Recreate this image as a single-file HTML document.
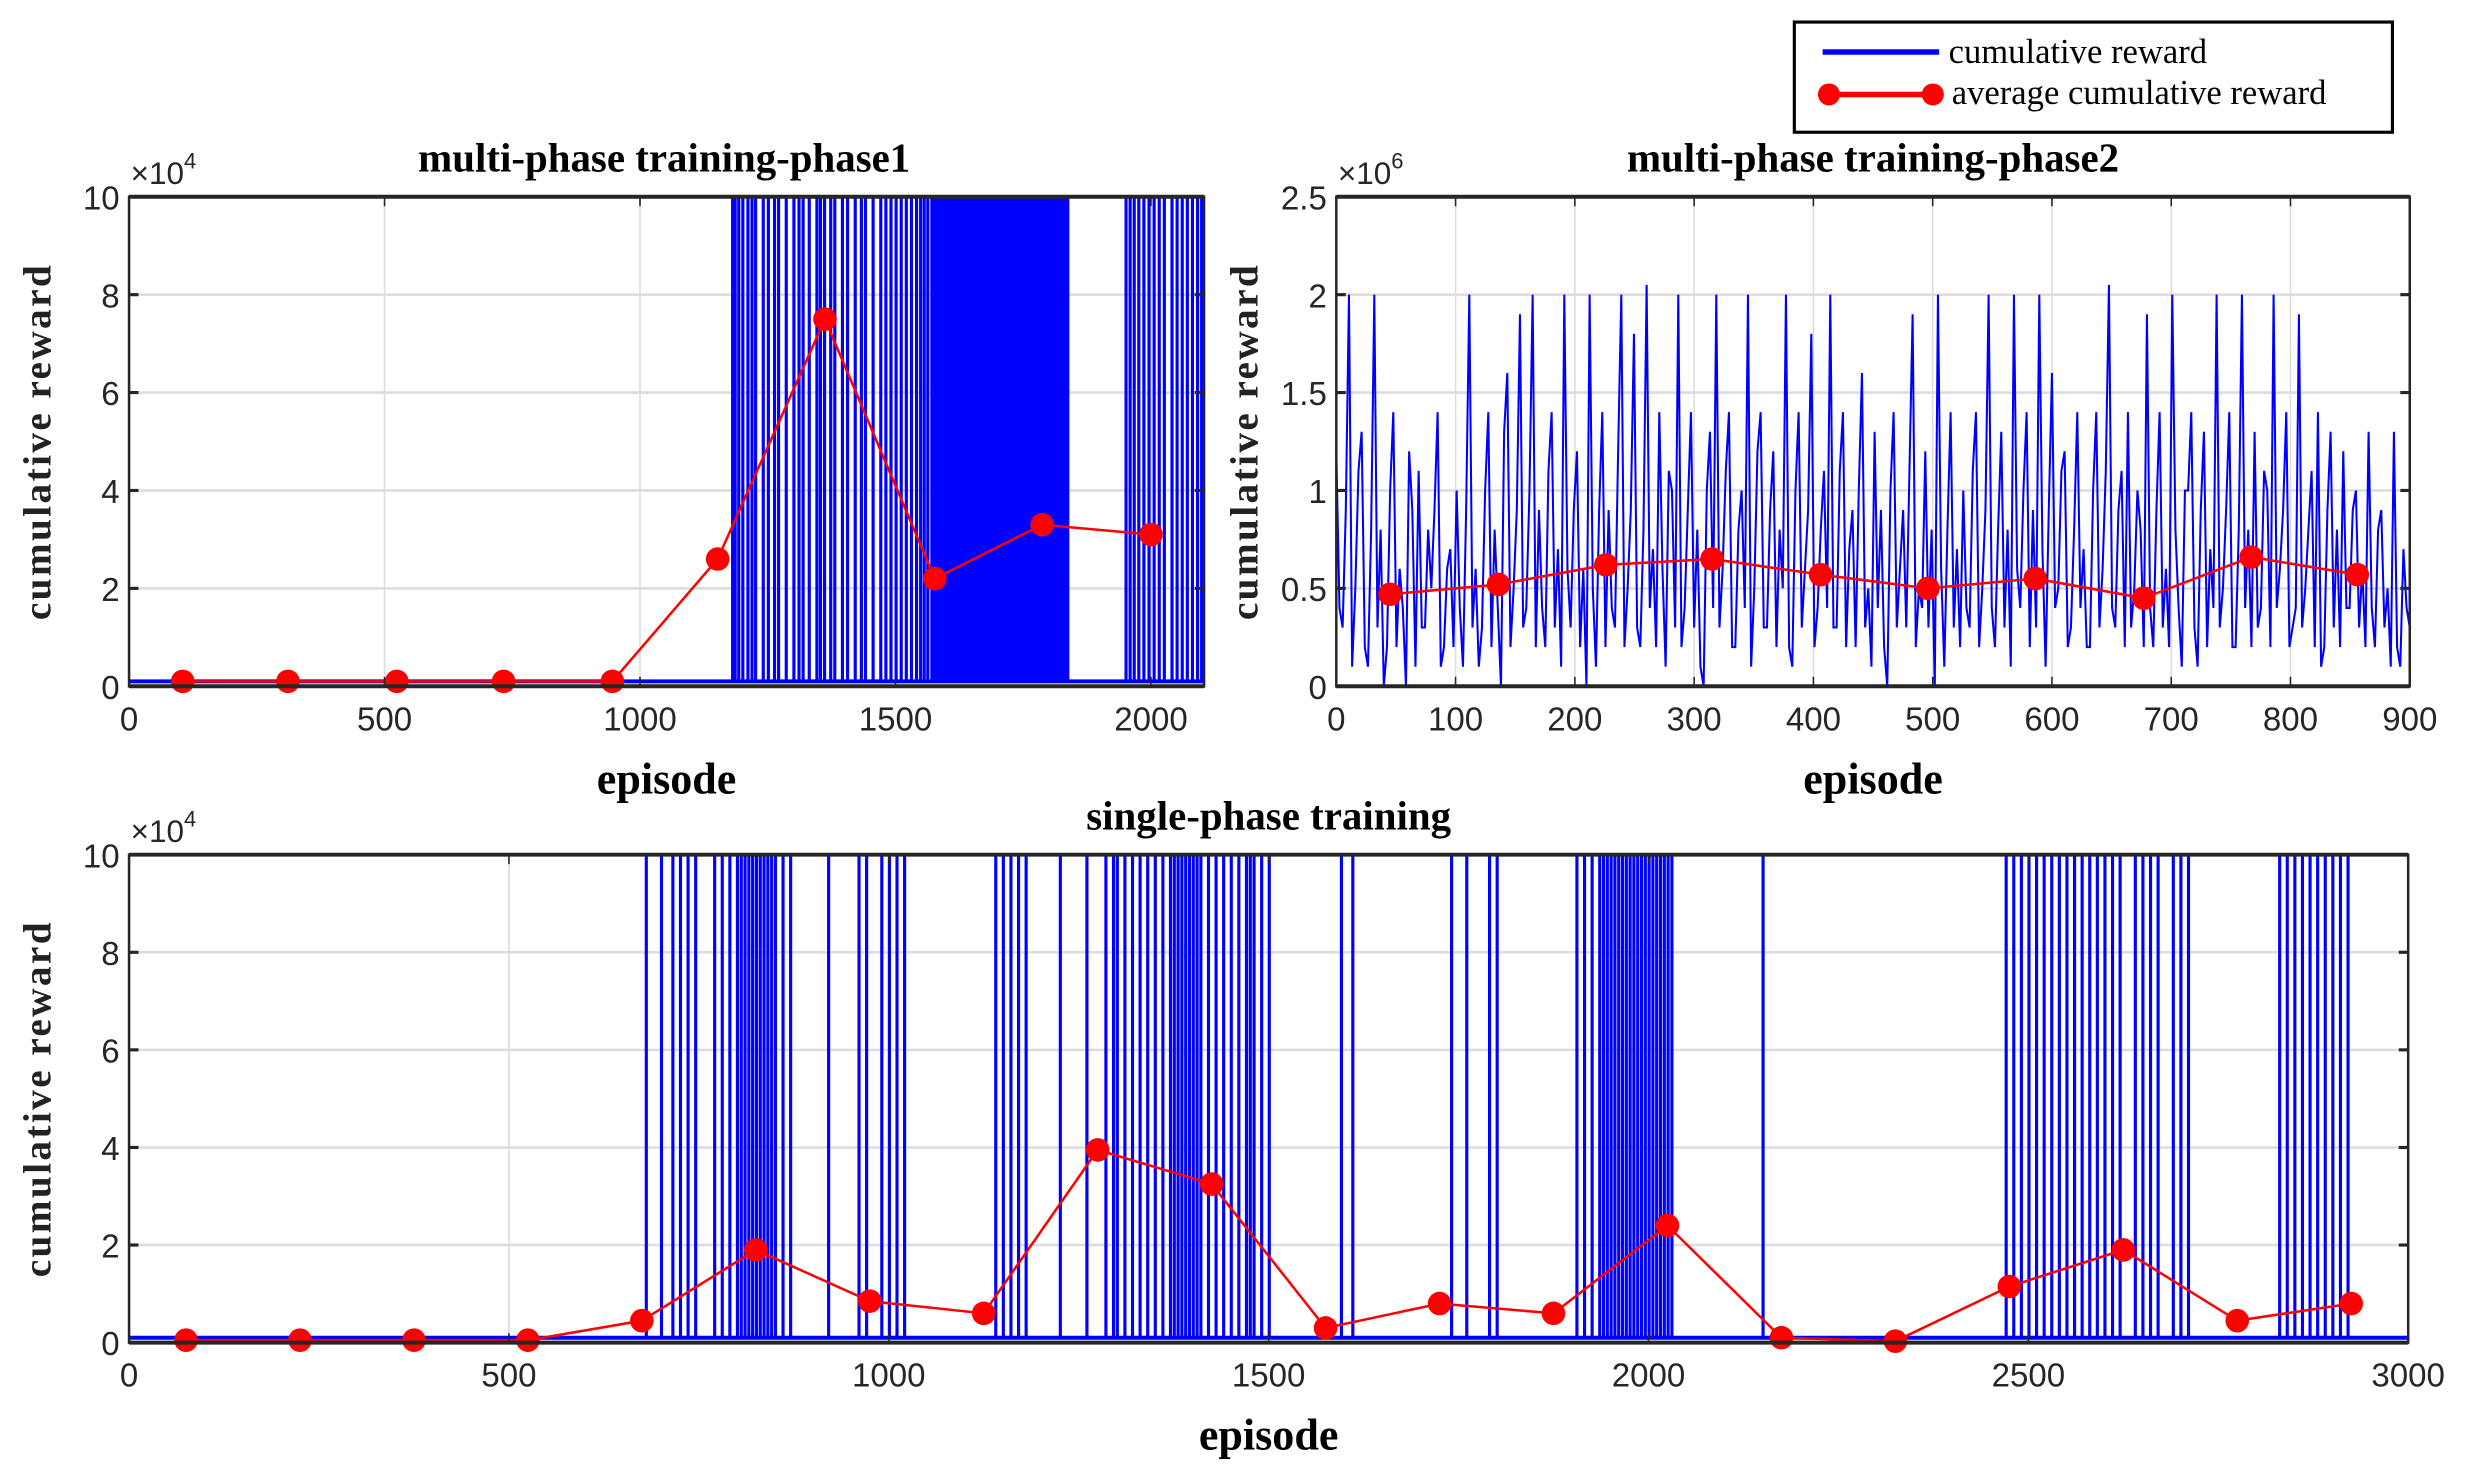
<!DOCTYPE html>
<html><head><meta charset="utf-8"><style>
html,body{margin:0;padding:0;background:#fff;}
svg{display:block;}
</style></head><body>
<svg id="fig" width="2468" height="1478" viewBox="0 0 1568 939" xmlns="http://www.w3.org/2000/svg"></svg>
<script>
// ---- data ----
const p1Spikes = [1180,1185,1192,1200,1210,1218,1225,1240,1250,1262,1270,1285,1300,1310,1318,1330,1345,1352,1360,1372,1380,1395,1405,1420,1432,1440,1455,1470,1480,1490,1500,1510,1520,1530,1540,1548,1555,1562,1570,1575,1580,1584,1588,1592,1596,1600,1604,1608,1612,1616,1620,1624,1628,1632,1636,1640,1644,1648,1652,1656,1660,1664,1668,1672,1676,1680,1684,1688,1692,1696,1700,1704,1708,1712,1716,1720,1724,1728,1732,1736,1740,1744,1748,1752,1756,1760,1764,1768,1772,1776,1780,1784,1788,1792,1796,1800,1806,1812,1818,1824,1830,1836,1950,1958,1966,1975,1985,1995,2005,2015,2025,2040,2050,2060,2070,2080,2090,2098];
const p1AvgX = [105,311,524,733,946,1152,1362,1577,1787,2000];
const p1AvgY = [0.1,0.1,0.1,0.1,0.1,2.6,7.5,2.2,3.3,3.1];
const p2Values = [1.2,0.3,2.0,0.5,1.3,0.1,2.0,0.8,0.2,1.4,0.6,0,0.9,1.1,0.3,0.5,1.4,0.2,0.7,1.0,
0.1,2.0,0.6,0.3,1.4,0.8,0,1.6,0.5,1.9,0.4,2.0,0.9,0.2,1.4,0.7,2.0,0.3,1.2,0.6,
2.0,0.1,1.4,0.9,0.3,2.0,0.5,1.8,0.2,2.05,0.7,1.4,0.1,1.0,2.0,0.4,1.4,0.8,0,1.3,
2.0,0.6,1.4,0.2,1.0,2.0,0.5,1.4,0.3,1.2,0.8,2.0,0.1,1.4,0.6,1.8,0.4,1.1,2.0,0.3,
1.4,0.7,0.2,1.6,0.5,1.3,0.9,0,1.4,0.6,0.3,1.9,0.5,1.2,0.8,2.0,0.1,1.4,0.7,1.0,
0.3,1.4,0.5,2.0,0.2,1.3,0.8,2.0,0.4,1.4,0.9,2.0,0.1,1.6,0.5,1.2,0.3,1.4,0.7,0.2,
1.4,0.6,2.05,0.3,1.1,1.4,0.5,0.8,1.9,0.2,1.4,0.6,2.0,0.4,1.0,1.4,0.1,1.3,0.7,2.0,
0.5,1.4,0.2,2.0,0.8,1.3,0.4,1.0,2.0,0.6,1.4,0.3,1.9,0.5,1.1,1.4,0.2,1.3,0.8,1.2,
0.4,1.0,0.6,1.3,0.2,0.9,0.5,1.3,0.1,0.4];
const p2ValuesB = [0.4,0.9,0.1,1.1,0.2,0.8,0.3,0,1.0,0.2,0.4,1.2,0.1,0.3,0.8,0.9,0.1,0.6,0.2,0.4,
0.9,0.3,0.1,1.0,0.2,0.4,1.3,0.2,0.9,0.3,1.0,0.2,0.4,1.1,0.3,0.1,0.6,0.9,0.2,0,
0.5,0.9,0.2,0.4,1.2,0.2,0.9,0.3,0.8,0.4,0.2,0.6,1.1,0.3,0.2,0.9,0.3,0.1,1.0,0.4,
0.3,1.1,0.2,0.8,0.4,0.1,1.2,0.3,0.9,0.2,0.5,0.2,1.0,0.3,0.9,0.2,0.8,0.4,0.3,1.1,
0.2,0.9,1.0,0.3,0.1,0.4,0.2,1.0,0.3,0.9,1.1,0.2,0.4,0.3,0,0.6,0.8,0.3,0.2,0.4,
1.1,0.2,0.9,0.4,0.8,0.3,0.1,0.6,1.0,0.2,0.3,0.7,0.9,0.4,1.1,0.2,0.8,0.4,0.2,1.0,
0.3,1.1,0.4,0.9,0.2,0.3,1.0,0.2,0.4,0.9,0.3,0.2,0.8,0.1,1.0,0.3,0.9,0.2,0.4,0.3,
0.9,0.2,0.8,0.4,0.2,0.3,1.1,0.2,0.4,0.9,0.2,0.4,0.3,0.8,0.2,0.1,0.9,0.3,0.2,0.4,
0.9,0.3,0.2,0.4,0.8,0.3,0.1,0.2,0.7,0.3];
const p2AvgX = [45,136,226,315,406,496,586,677,767,856];
const p2AvgY = [0.47,0.52,0.62,0.65,0.57,0.50,0.55,0.45,0.66,0.57];
const p3Spikes = [680,700,715,725,735,745,770,780,790,800,805,810,815,820,825,830,835,840,845,850,860,870,920,960,970,990,1000,1010,1020,1140,1150,1160,1170,1180,1225,1260,1285,1295,1300,1310,1320,1330,1340,1350,1360,1370,1375,1380,1385,1390,1395,1400,1405,1410,1420,1430,1440,1450,1460,1470,1475,1480,1490,1500,1595,1610,1740,1760,1790,1800,1905,1915,1925,1935,1940,1945,1950,1955,1960,1965,1970,1975,1980,1985,1990,1995,2000,2005,2010,2015,2020,2025,2030,2150,2470,2480,2490,2500,2510,2520,2530,2540,2550,2560,2570,2580,2590,2600,2610,2620,2640,2650,2660,2670,2690,2700,2710,2830,2840,2850,2860,2870,2880,2890,2900,2910,2920];
const p3AvgX = [75,225,375,525,675,825,975,1125,1275,1425,1575,1725,1875,2025,2175,2325,2475,2625,2775,2925];
const p3AvgY = [0.05,0.05,0.05,0.05,0.45,1.9,0.85,0.6,3.95,3.25,0.3,0.8,0.6,2.4,0.1,0.03,1.15,1.9,0.45,0.8];
const p1XTicks = [0,500,1000,1500,2000];
const p2XTicks = [0,100,200,300,400,500,600,700,800,900];
const p3XTicks = [0,500,1000,1500,2000,2500,3000];
const yTicks10 = [0,2,4,6,8,10];
const p2YTicks = [0,0.5,1,1.5,2,2.5];

const NS='http://www.w3.org/2000/svg';
const svg=document.getElementById('fig');
function mk(tag,attrs,parent){const e=document.createElementNS(NS,tag);for(const k in attrs)e.setAttribute(k,attrs[k]);(parent||svg).appendChild(e);return e;}
function txt(s,attrs,parent){const e=mk('text',attrs,parent);e.textContent=s;return e;}
const SANS='"Liberation Sans", Arial, sans-serif', SERIF='"Liberation Serif", "Times New Roman", serif';

function makeAxes(name,L,R,T,B,xmax,ymax,xticks,yticks,title,exp,titleX){
  const g=mk('g',{});
  
  
  const sx=v=>L+(v/xmax)*(R-L), sy=v=>B-(v/ymax)*(B-T);
  xticks.forEach(t=>{ if(t>0&&t<xmax){const l=mk('line',{x1:sx(t),x2:sx(t),y1:T,y2:B,stroke:'#dcdcdc','stroke-width':1},g);}});
  yticks.forEach(t=>{ if(t>0&&t<ymax){const l=mk('line',{x1:L,x2:R,y1:sy(t),y2:sy(t),stroke:'#dcdcdc','stroke-width':1.6},g);}});
  return {g,sx,sy,L,R,T,B,xmax,ymax,xticks,yticks,title,exp,titleX};
}
function finishAxes(a,name){
  const g=mk('g',{});
  
  
  const {L,R,T,B,sx,sy}=a;
  mk('rect',{x:L,y:T,width:R-L,height:B-T,fill:'none',stroke:'#262626','stroke-width':1.6},g);
  mk('line',{x1:L,x2:R,y1:T,y2:T,stroke:'#262626','stroke-width':2.5},g);
  mk('line',{x1:L,x2:R,y1:B,y2:B,stroke:'#262626','stroke-width':2.5},g);
  a.xticks.forEach(t=>{
    mk('line',{x1:sx(t),x2:sx(t),y1:B,y2:B-6,stroke:'#262626','stroke-width':1},g);
    mk('line',{x1:sx(t),x2:sx(t),y1:T,y2:T+6,stroke:'#262626','stroke-width':1},g);
    const e=txt(String(t),{x:sx(t),y:B+28,'text-anchor':'middle','font-family':SANS,'font-size':21,fill:'#262626'},g);
    
  });
  a.yticks.forEach(t=>{
    mk('line',{x1:L,x2:L+6,y1:sy(t),y2:sy(t),stroke:'#262626','stroke-width':2},g);
    mk('line',{x1:R,x2:R-6,y1:sy(t),y2:sy(t),stroke:'#262626','stroke-width':2},g);
    const e=txt(String(t),{x:L-6,y:sy(t)+8,'text-anchor':'end','font-family':SANS,'font-size':21,fill:'#262626'},g);
    
  });
  const ex=txt('×10',{x:L+1,y:T-8,'font-family':SANS,'font-size':20,fill:'#262626'},g);
  
  const sup=mk('tspan',{dy:-10,'font-size':14},ex);sup.textContent=a.exp;
  const ti=txt(a.title,{x:a.titleX,y:T-16,'text-anchor':'middle','font-family':SERIF,'font-weight':'bold','font-size':26,fill:'#000'},g);
  
  const xl=txt('episode',{x:(L+R)/2,y:B+68,'text-anchor':'middle','font-family':SERIF,'font-weight':'bold','font-size':28,fill:'#000'},g);
  
  const cy=(T+B)/2;
  const yl=txt('cumulative reward',{x:0,y:0,transform:`translate(${L-50},${cy}) rotate(-90)`,'text-anchor':'middle','font-family':SERIF,'font-weight':'bold','font-size':25,'letter-spacing':1.5,fill:'#222'},g);
  
}
function drawSpikes(a,spikes,base,name){
  const top=a.ymax;let d=`M${a.sx(0)},${a.sy(base)}`;
  spikes.forEach(s=>{const x=a.sx(Math.min(s,a.xmax));d+=`L${x},${a.sy(base)}L${x},${a.sy(top)}L${x+0.8},${a.sy(top)}L${x+0.8},${a.sy(base)}`;});
  d+=`L${a.R},${a.sy(base)}`;
  const p=mk('path',{d,fill:'none',stroke:'#0000ff','stroke-width':1.2},a.g);
  
  const b=mk('line',{x1:a.L,x2:a.R,y1:a.sy(base),y2:a.sy(base),stroke:'#0000ff','stroke-width':2.5},a.g);
  
}
function drawLine(a,xs,ys,name){
  const d=xs.map((x,i)=>(i?'L':'M')+a.sx(x)+','+a.sy(ys[i])).join('');
  const p=mk('path',{d,fill:'none',stroke:'#ff0000','stroke-width':1.6},a.g);
  
  xs.forEach((x,i)=>{const c=mk('circle',{cx:a.sx(x),cy:a.sy(ys[i]),r:7.5,fill:'#ff0000'},a.g);
    });
}

// Plot 1
const a1=makeAxes('phase1-chart',82,765,125,436,2104,10,p1XTicks,yTicks10,'multi-phase training-phase1','4',422);
drawSpikes(a1,p1Spikes,0.1,'phase1-cumulative-reward');
drawLine(a1,p1AvgX,p1AvgY,'phase1-average-reward');
finishAxes(a1,'phase1');
// Plot 2
const a2=makeAxes('phase2-chart',849,1531,125,436,900,2.5,p2XTicks,p2YTicks,'multi-phase training-phase2','6',1190);
(function(){
  const vals=[];
  p2Values.forEach((v,i)=>{vals.push(v); if(i<p2ValuesB.length) vals.push(p2ValuesB[i]);});
  const n=vals.length;
  const d=vals.map((v,i)=>(i?'L':'M')+a2.sx(i*900/(n-1))+','+a2.sy(v)).join('');
  const p=mk('path',{d,fill:'none',stroke:'#0000ff','stroke-width':1.3},a2.g);
  
})();
drawLine(a2,p2AvgX,p2AvgY,'phase2-average-reward');
finishAxes(a2,'phase2');
// Plot 3
const a3=makeAxes('single-phase-chart',82,1530,543,853,3000,10,p3XTicks,yTicks10,'single-phase training','4',806);
drawSpikes(a3,p3Spikes,0.1,'single-cumulative-reward');
drawLine(a3,p3AvgX,p3AvgY,'single-average-reward');
finishAxes(a3,'single');

// Legend
const lg=mk('g',{});


mk('rect',{x:1140,y:14,width:380,height:70,fill:'#fff',stroke:'#000','stroke-width':2},lg);
mk('line',{x1:1158,x2:1232,y1:33,y2:33,stroke:'#0000ff','stroke-width':3.5},lg);
const t1=txt('cumulative reward',{x:1238,y:40,'font-family':SERIF,'font-size':22,fill:'#000'},lg);

mk('line',{x1:1162,x2:1228,y1:60,y2:60,stroke:'#ff0000','stroke-width':3.5},lg);
mk('circle',{cx:1162,cy:60,r:7,fill:'#ff0000'},lg);
mk('circle',{cx:1228,cy:60,r:7,fill:'#ff0000'},lg);
const t2=txt('average cumulative reward',{x:1240,y:66,'font-family':SERIF,'font-size':22,fill:'#000'},lg);

</script>
</body></html>
